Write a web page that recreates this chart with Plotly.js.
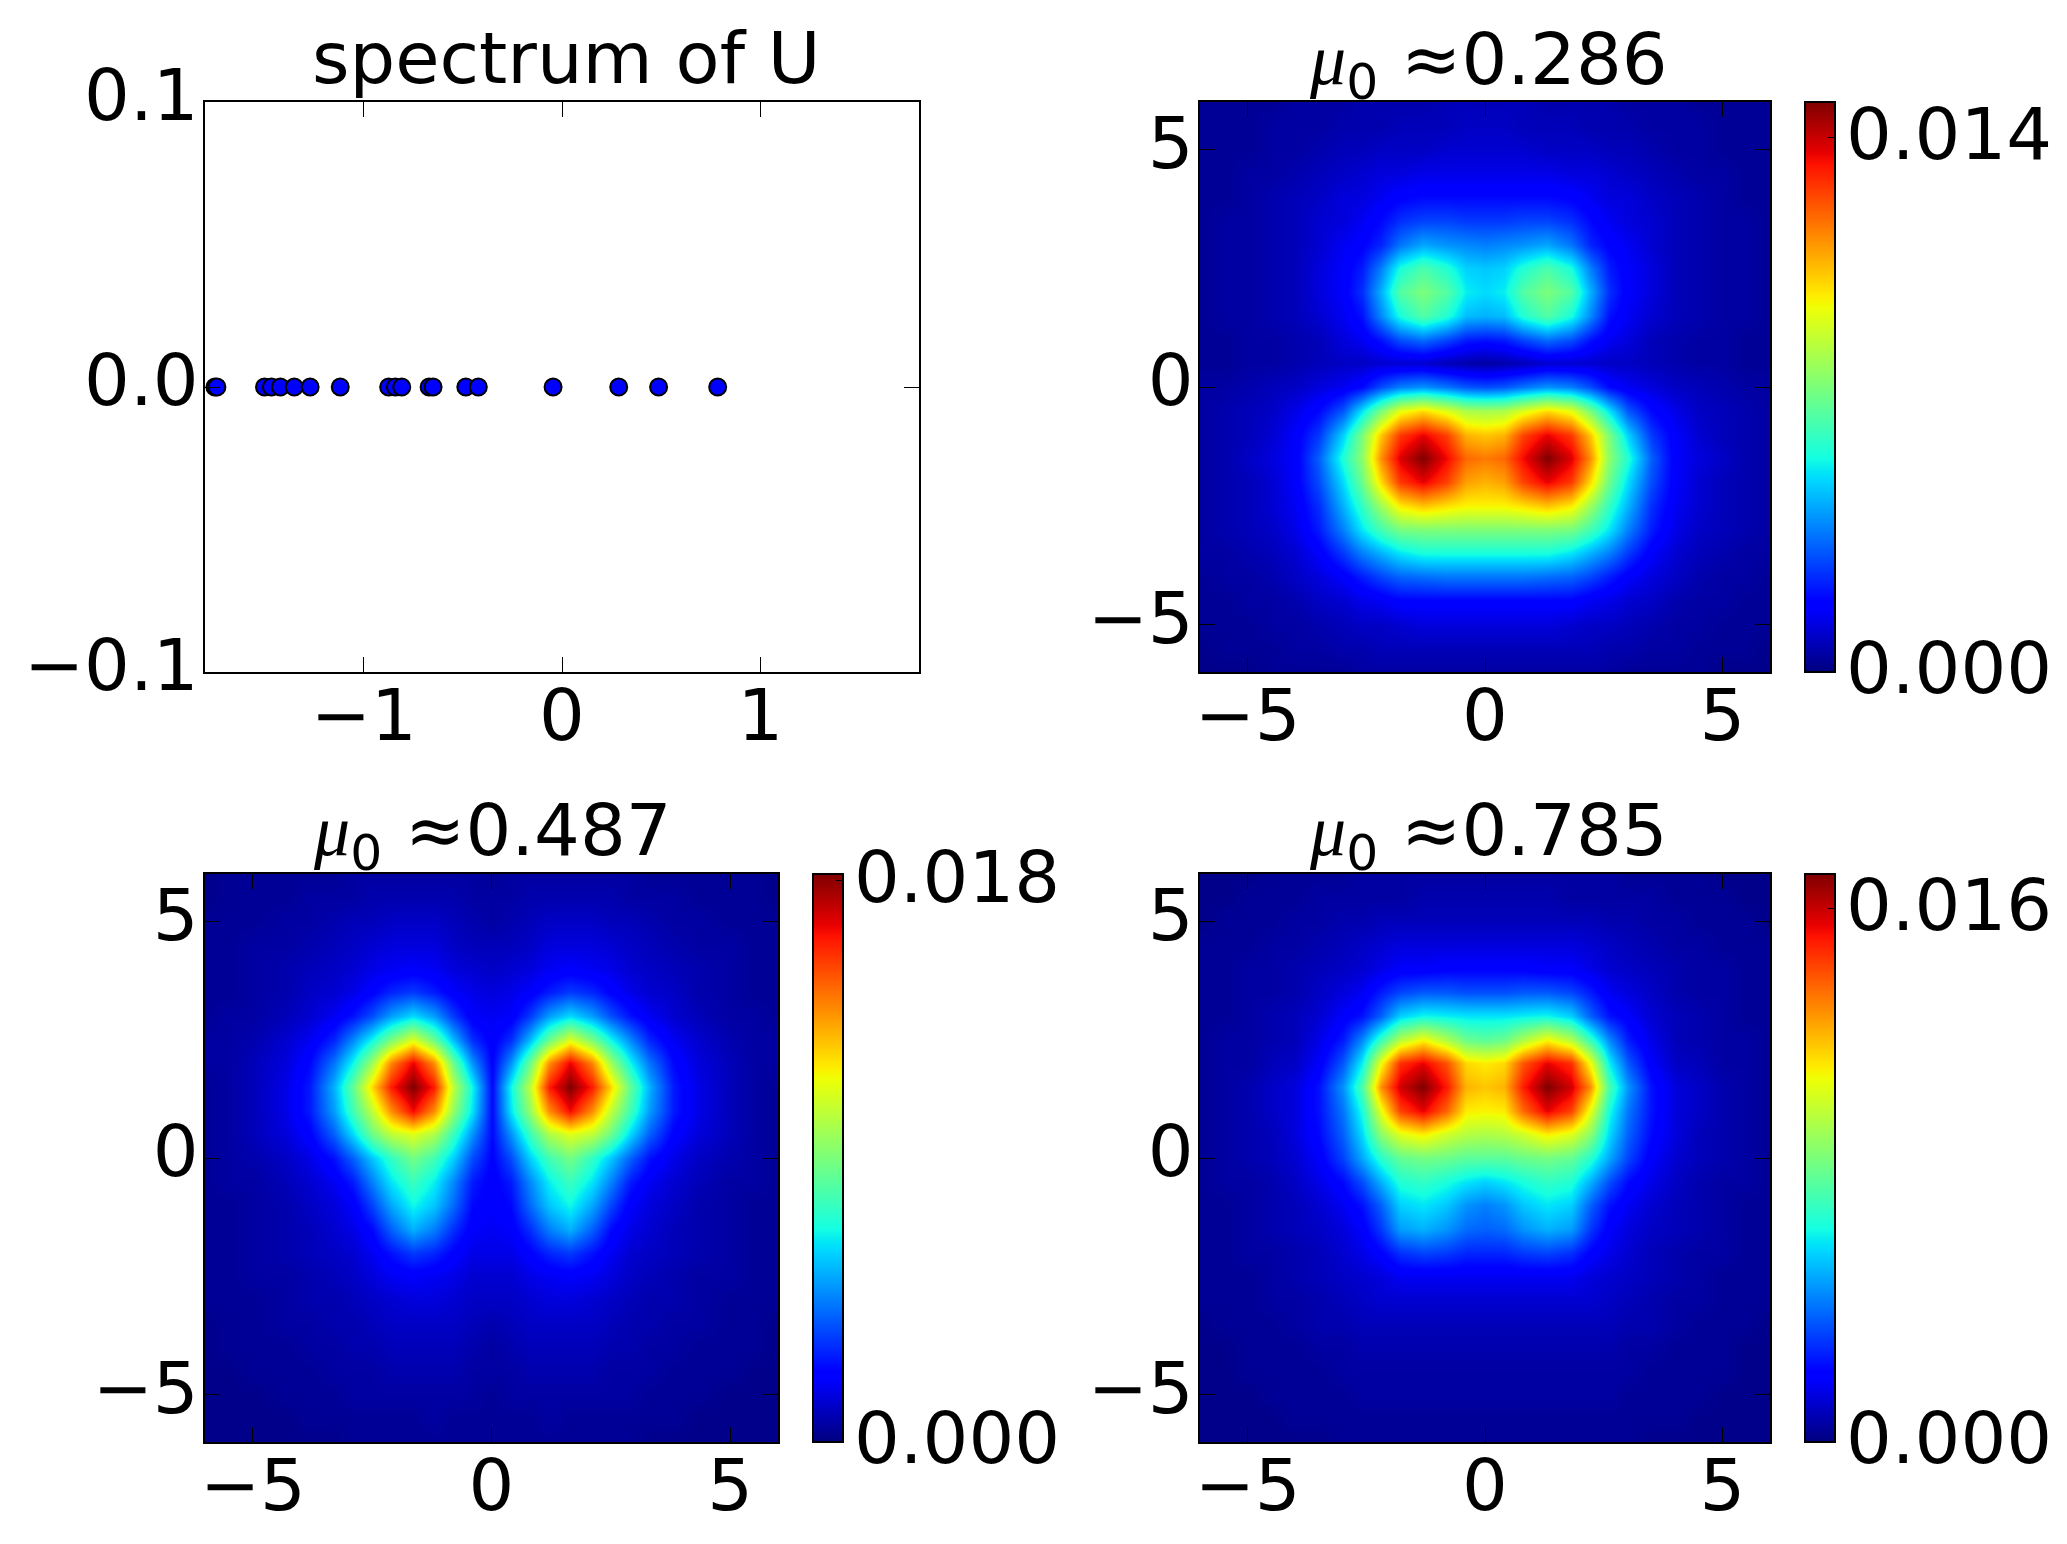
<!DOCTYPE html>
<html><head><meta charset="utf-8">
<script src="https://cdn.plot.ly/plotly-3.0.1.min.js"></script>
<style>html,body{margin:0;padding:0;background:#fff}</style></head>
<body><div id="chart" style="width:2067px;height:1544px"></div>
<script>
// spectrum of U
const spectrum = [-1.75,-1.74,-1.50,-1.465,-1.42,-1.35,-1.27,-1.118,-0.874,-0.84,-0.808,-0.67,-0.65,-0.485,-0.422,-0.045,0.286,0.487,0.785];
const spectrumTicksX = [-1,0,1];
const spectrumTicksY = [-0.1,0,0.1];
const gridXBD = [0,.4,.8,1.3,1.8,2.2,2.6,3,3.5,4,4.5,5,5.5,6];
const gridXC = [0,.4,.8,1.2,1.65,2.1,2.5,2.9,3.3,3.8,4.3,5,5.5,6];
const gridY = [6,5.5,5,4.5,4,3.5,3,2.5,2,1.5,1,.5,0,-.5,-1,-1.5,-2,-2.5,-3,-3.5,-4,-4.5,-5,-5.5,-6];
const heatTicks = [-5,0,5];
// Percent of each panel's colour-bar top, right half (the panels are left-right symmetric)
const pctB = [
[5,5,5,4,4,4,4,3,3,3,2,2,2,2],
[6,6,5,5,5,4,4,4,3,3,3,2,2,2],
[7,7,7,6,6,6,5,5,4,3,3,2,2,2],
[9,9,9,9,8,8,7,6,5,4,3,3,2,2],
[13,13,13,13,12,10,8,8,6,5,4,3,2,2],
[18,18,19,19,17,13,10,8,7,5,4,3,3,2],
[25,26,27,29,24,16,12,10,7,5,4,3,3,2],
[32,33,39,44,38,25,15,11,8,5,4,3,3,2],
[34,36,45,50,45,30,17,11,8,5,4,3,3,2],
[30,31,39,45,38,26,14,10,7,5,4,3,3,2],
[14,15,19,23,20,14,10,8,5,4,3,3,2,2],
[3,4,5,7,7,7,6,6,5,4,3,3,2,2],
[20,21,24,27,25,20,13,10,8,6,5,4,3,3],
[55,56,62,68,63,50,35,21,13,9,6,5,4,3],
[70,72,84,91,85,70,50,33,18,11,7,5,4,3],
[78,80,90,100,92,76,52,39,22,11,8,6,4,3],
[72,74,84,91,85,68,48,34,20,11,7,5,4,3],
[65,65,67,70,66,54,41,30,17,10,7,5,4,3],
[50,50,50,50,49,43,35,25,15,9,6,5,4,3],
[38,38,38,38,35,30,25,18,11,7,5,4,3,3],
[24,24,24,23,22,19,15,11,8,6,4,3,3,2],
[12,12,12,12,12,10,9,7,6,4,3,3,2,2],
[8,8,8,8,7,6,6,5,4,3,3,2,2,2],
[5,5,5,5,5,5,4,4,3,3,2,2,2,1],
[3,3,3,3,3,3,3,2,2,2,2,1,1,1]];
const pctC = [
[2,3,3,3,3,3,3,3,2,2,2,2,2,1],
[3,3,4,4,4,4,4,3,3,3,2,2,2,1],
[3,4,5,6,6,6,5,5,4,3,3,2,2,2],
[5,5,6,8,8,8,7,6,5,4,3,3,2,2],
[6,7,8,10,11,10,9,7,6,5,4,3,2,2],
[8,9,11,15,18,16,12,9,7,6,4,3,2,2],
[10,11,18,28,34,28,20,14,10,7,5,3,3,2],
[11,17,31,48,62,50,37,26,16,10,7,4,3,3],
[12,27,48,76,91,77,54,37,24,13,8,5,3,3],
[13,37,58,88,100,88,68,47,30,15,9,5,3,2],
[13,35,53,76,90,76,58,43,28,15,9,5,3,2],
[13,27,42,56,62,58,48,34,22,12,8,5,3,2],
[12,20,33,43,49,41,32,22,14,9,6,4,3,2],
[11,15,26,36,42,35,25,15,10,7,5,3,3,2],
[11,13,23,32,37,29,19,11,8,6,4,3,2,2],
[10,11,17,25,30,22,13,9,7,5,4,3,2,2],
[9,9,12,16,18,14,10,7,6,5,4,3,2,2],
[7,7,9,10,11,10,8,6,5,4,3,3,2,2],
[6,6,7,8,8,7,6,5,4,4,3,2,2,2],
[4,5,6,6,6,6,5,4,4,3,3,2,2,1],
[3,4,5,5,5,5,4,4,3,3,2,2,2,1],
[3,3,4,4,4,4,3,3,3,2,2,2,1,1],
[2,3,3,3,3,3,3,3,2,2,2,1,1,1],
[2,2,2,3,2,2,2,2,2,2,1,1,1,1],
[2,2,2,2,2,2,2,2,1,1,1,1,1,1]];
const pctD = [
[3,3,3,3,3,3,3,2,2,2,2,1,1,1],
[4,4,4,4,3,3,3,3,3,2,2,2,1,1],
[5,5,5,5,5,5,4,4,3,3,2,2,2,1],
[8,8,8,8,8,7,6,5,4,3,3,2,2,2],
[12,12,12,11,11,9,7,6,5,4,3,3,2,2],
[20,20,21,21,19,15,10,8,6,4,3,3,2,2],
[35,35,36,37,33,22,14,11,7,5,4,3,2,2],
[46,48,56,65,57,42,26,15,9,5,4,3,3,2],
[66,68,82,91,86,64,36,21,11,6,5,3,3,2],
[70,72,88,100,93,76,44,27,14,8,6,4,3,2],
[65,66,80,91,84,63,38,24,14,8,6,4,3,2],
[56,57,60,66,62,52,34,22,13,8,5,4,3,2],
[46,46,48,49,47,40,29,19,11,7,5,4,3,2],
[33,35,38,41,39,30,20,13,9,6,4,3,3,2],
[25,27,32,35,33,22,14,10,7,5,4,3,2,2],
[22,23,27,30,28,18,11,8,6,5,4,3,2,2],
[16,16,18,19,17,12,9,7,5,4,3,3,2,2],
[10,10,10,10,10,8,7,6,5,4,3,2,2,2],
[7,7,7,7,7,7,6,5,4,3,3,2,2,2],
[5,5,5,5,5,5,5,4,4,3,2,2,2,1],
[4,4,4,4,4,4,4,3,3,2,2,2,1,1],
[3,3,3,3,3,3,3,3,2,2,2,2,1,1],
[3,3,3,3,3,3,3,2,2,2,2,1,1,1],
[2,2,2,2,2,2,2,2,2,2,1,1,1,1],
[2,2,2,2,2,2,2,2,1,1,1,1,1,1]];
const zTopB = 0.01494, zTopC = 0.01822, zTopD = 0.01704;
const barTickB = 0.014, barTickC = 0.018, barTickD = 0.016;
const jet = [[0,'rgb(0,0,127)'],[0.11,'rgb(0,0,255)'],[0.125,'rgb(0,0,255)'],[0.34,'rgb(0,219,255)'],[0.35,'rgb(0,229,247)'],[0.375,'rgb(20,255,226)'],[0.64,'rgb(239,255,5)'],[0.65,'rgb(247,245,0)'],[0.66,'rgb(255,236,0)'],[0.89,'rgb(255,18,0)'],[0.91,'rgb(232,0,0)'],[1,'rgb(127,0,0)']];

const W = 2067, H = 1544;
const FONT = 'DejaVu Sans';
const SIZE = 72;
const boxes = {
  A:{l:205,r:919,t:102,b:672},
  B:{l:1200,r:1770,t:102,b:672},
  C:{l:205,r:778,t:874,b:1442},
  D:{l:1200,r:1770,t:874,b:1442}
};
const dx = b => [b.l/W, b.r/W], dy = b => [1-b.b/H, 1-b.t/H];
function axis(range, ticks, extra){
  return Object.assign({range:range, tickmode:'array', tickvals:ticks, ticks:'inside', ticklen:15, tickwidth:1, tickcolor:'#000',
    showline:true, linecolor:'#000', linewidth:2, mirror:'allticks', showgrid:false, zeroline:false,
    tickfont:{family:FONT,size:SIZE,color:'#000'}}, extra||{});
}
const xAxis = (b,range,ticks,a) => axis(range,ticks,{domain:dx(b),anchor:a,ticklabelstandoff:-20});
const yAxis = (b,range,ticks,a,extra) => axis(range,ticks,Object.assign({domain:dy(b),anchor:a,ticklabelstandoff:-10,ticklabelshift:-7},extra||{}));
function fullGrid(pct, top){
  return pct.map(r => r.slice(1).reverse().concat(r).map(v => v/100*top)).reverse();
}
const fullX = g => g.slice(1).map(v=>-v).reverse().concat(g);
const ys = gridY.slice().reverse();
function heat(pct, gx, top, tick, xa, ya, barLeft, b){
  return {type:'heatmap', x:fullX(gx), y:ys, z:fullGrid(pct,top), xaxis:xa, yaxis:ya, zmin:0, zmax:top, zsmooth:'best', colorscale:jet,
    colorbar:{thickness:30, thicknessmode:'pixels', lenmode:'fraction', len:(b.b-b.t)/H, x:barLeft/W, xanchor:'left', y:1-b.b/H, yanchor:'bottom',
      xpad:0, ypad:0, outlinecolor:'#000', outlinewidth:2, tickmode:'array', tickvals:[0,tick], ticktext:['0.000',tick.toFixed(3)],
      ticks:'inside', ticklen:8, tickcolor:'#000', tickwidth:1, tickfont:{family:FONT,size:SIZE,color:'#000'}}};
}
const traces = [
  {type:'scatter', mode:'markers', x:spectrum, y:spectrum.map(()=>0), xaxis:'x', yaxis:'y', showlegend:false,
   marker:{size:17,color:'#0000ff',line:{color:'#000',width:2}}},
  heat(pctB,gridXBD,zTopB,barTickB,'x2','y2',1805,boxes.B),
  heat(pctC,gridXC,zTopC,barTickC,'x3','y3',813,boxes.C),
  heat(pctD,gridXBD,zTopD,barTickD,'x4','y4',1805,boxes.D)
];
function muTitle(v){
  return '<span style="font-family:Liberation Serif;font-style:italic">μ</span><sub>0</sub> ≈'+v;
}
function ann(text, cx, baseTop){
  return {xref:'paper',yref:'paper',x:cx/W,y:1-baseTop/H,xanchor:'center',yanchor:'bottom',showarrow:false,text:text,
    font:{family:FONT,size:SIZE,color:'#000'}};
}
const layout = {
  width:W, height:H, margin:{l:0,r:0,t:0,b:0}, paper_bgcolor:'#fff', plot_bgcolor:'#fff', showlegend:false,
  xaxis:xAxis(boxes.A,[-1.8,1.8],spectrumTicksX,'y'),
  yaxis:yAxis(boxes.A,[-0.1,0.1],spectrumTicksY,'x',{tickformat:'.1f'}),
  xaxis2:xAxis(boxes.B,[-6,6],heatTicks,'y2'),
  yaxis2:yAxis(boxes.B,[-6,6],heatTicks,'x2'),
  xaxis3:xAxis(boxes.C,[-6,6],heatTicks,'y3'),
  yaxis3:yAxis(boxes.C,[-6,6],heatTicks,'x3'),
  xaxis4:xAxis(boxes.D,[-6,6],heatTicks,'y4'),
  yaxis4:yAxis(boxes.D,[-6,6],heatTicks,'x4'),
  annotations:[
    ann('spectrum of U',566,102),
    ann(muTitle('0.286'),1488,113),
    ann(muTitle('0.487'),492,884),
    ann(muTitle('0.785'),1488,884)
  ]
};
Plotly.newPlot('chart',traces,layout,{displayModeBar:false,responsive:false}).then(function(){
  document.querySelectorAll('.colorbar .cbaxis text').forEach(function(t){
    t.setAttribute('transform','translate(-5,-4) '+(t.getAttribute('transform')||''));
  });
});
</script></body></html>
